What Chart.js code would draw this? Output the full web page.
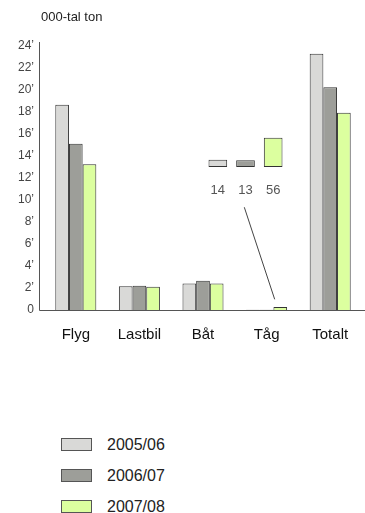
<!DOCTYPE html>
<html>
<head>
<meta charset="utf-8">
<script src="https://cdn.jsdelivr.net/npm/chart.js@4"></script>
<style>
body{margin:0;background:#fff;font-family:"Liberation Sans",Arial,sans-serif}
#wrap{position:relative;width:365px;height:513px;overflow:hidden}
#main{position:absolute;left:0;top:0}
#inset{position:absolute;left:204px;top:135px}
#title{position:absolute;left:41px;top:9px;font-size:13px;color:#222}
.lg{position:absolute;left:61px;height:19px;font-size:16px;color:#222}
.lg span{position:absolute;left:0;top:3px;width:31px;height:13px;box-sizing:border-box;border:1px solid #555}
.lg b{position:absolute;left:46px;top:0;font-weight:normal;white-space:nowrap;line-height:19px}
</style>
</head>
<body>
<div id="wrap">
<canvas id="main" width="365" height="350"></canvas>
<canvas id="inset" width="83" height="70"></canvas>
<div id="title">000-tal ton</div>
<div id="legend"></div>
</div>
<script>
// data, 000-tal ton
const categories=["Flyg","Lastbil","Båt","Tåg","Totalt"]
const seriesNames=["2005/06","2006/07","2007/08"]
const v0506=[18.66,2.15,2.42,0.014,23.3]
const v0607=[15.12,2.2,2.67,0.013,20.25]
const v0708=[13.25,2.12,2.42,0.056,17.94]
// Tåg in ton (inset)
const tagTon=[14,13,56]
const yTicks=[0,2,4,6,8,10,12,14,16,18,20,22,24]

const colors=["#d9d9d7","#9d9e99","#dcff9f"]
const edge="#333"

// axis lines + pointer line to Tåg
const axisLines={
id:"axisLines",
afterDatasetsDraw(c){
let ctx=c.ctx,a=c.chartArea
let x=c.scales.x,y=c.scales.y
ctx.save()
ctx.strokeStyle="#555"
ctx.lineWidth=1
ctx.beginPath()
ctx.moveTo(a.left-4.5,a.top)
ctx.lineTo(a.left-4.5,a.bottom+0.5)
ctx.lineTo(c.width,a.bottom+0.5)
ctx.stroke()
let cx=x.getPixelForValue(3)
ctx.strokeStyle="#444"
ctx.beginPath()
ctx.moveTo(cx-22.3,y.getPixelForValue(9.34))
ctx.lineTo(cx+8.1,y.getPixelForValue(0.97))
ctx.stroke()
ctx.restore()
}
}

new Chart(document.getElementById("main"),{
type:"bar",
data:{
labels:categories,
datasets:[v0506,v0607,v0708].map((d,i)=>({
label:seriesNames[i],
data:d,
backgroundColor:colors[i],
borderColor:edge,
borderWidth:1,
minBarLength:i===2?3:0
}))
},
options:{
responsive:false,
animation:false,
devicePixelRatio:1,
layout:{padding:{left:0,right:3,top:42,bottom:0}},
categoryPercentage:0.645,
barPercentage:1,
plugins:{legend:{display:false},tooltip:{enabled:false}},
scales:{
x:{
grid:{display:false,drawTicks:false},
border:{display:false},
ticks:{color:"#111",font:{family:"Liberation Sans",size:15},padding:16},
afterFit:s=>{s.height=40}
},
y:{
min:0,
max:24.36,
grid:{display:false,drawTicks:false},
border:{display:false},
ticks:{color:"#444",font:{family:"Liberation Sans",size:12},padding:10,
callback:v=>v===0?"0":v+"’"},
afterBuildTicks:s=>{s.ticks=yTicks.map(v=>({value:v}))},
afterFit:s=>{s.width=44}
}
}
},
plugins:[axisLines]
})

// inset with ton values
const valueLabels={
id:"valueLabels",
afterDatasetsDraw(c){
let ctx=c.ctx
let meta=c.getDatasetMeta(0)
ctx.save()
ctx.fillStyle="#555"
ctx.font="13px 'Liberation Sans'"
ctx.textAlign="center"
ctx.textBaseline="middle"
meta.data.forEach((bar,i)=>{
ctx.fillText(String(tagTon[i]),bar.x,c.chartArea.bottom+23)
})
ctx.restore()
}
}

new Chart(document.getElementById("inset"),{
type:"bar",
data:{
labels:seriesNames,
datasets:[{
data:tagTon,
backgroundColor:colors,
borderColor:edge,
borderWidth:1,
borderSkipped:false
}]
},
options:{
responsive:false,
animation:false,
devicePixelRatio:1,
layout:{padding:{bottom:38}},
categoryPercentage:0.675,
barPercentage:1,
plugins:{legend:{display:false},tooltip:{enabled:false}},
scales:{
x:{display:false},
y:{display:false,min:0,max:61.2}
}
},
plugins:[valueLabels]
})

// legend
let lg=document.getElementById("legend")
seriesNames.forEach((n,i)=>{
let d=document.createElement("div")
d.className="lg"
d.style.top=(435+31*i)+"px"
d.innerHTML=`<span style="background:${colors[i]}"></span><b>${n}</b>`
lg.appendChild(d)
})
</script>
</body>
</html>
